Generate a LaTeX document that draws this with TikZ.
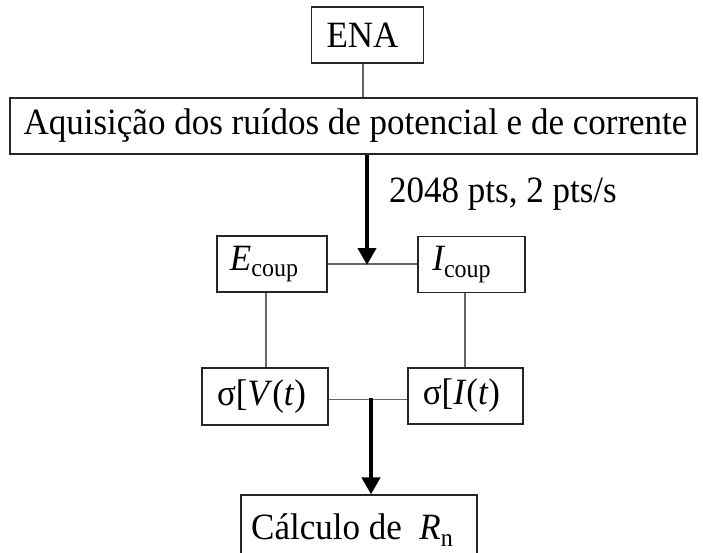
\documentclass[tikz,border=0pt]{standalone}
\usepackage{fontspec}
\usepackage{graphicx}
\setmainfont{Liberation Serif}
\usetikzlibrary{arrows.meta}
\newcommand{\sbs}[1]{\raisebox{-6.5pt}{\fontsize{24}{24}\selectfont #1}}
\newcommand{\tst}[1]{\scalebox{1}[1.06]{#1}}
\tikzset{
  box/.style={draw=black!85, line width=1.2pt, inner sep=0pt, font=\fontsize{35}{38}\selectfont},
  link/.style={draw=black!60, line width=1.3pt},
  flow/.style={draw=black, line width=4pt, -{Triangle[length=17pt,width=18pt]}},
}
\begin{document}
\begin{tikzpicture}[x=1pt,y=-1pt]
\useasboundingbox[fill=white] (0,0) rectangle (703,552);
\node[box, minimum width=112pt, minimum height=56pt] (ena) at (367.5,35) {\tst{ENA}\hspace*{10pt}};
\node[box, minimum width=687pt, minimum height=56pt] (acq) at (353.5,126) {\hspace*{4pt}\tst{Aquisição dos ruídos de potencial e de corrente}};
\node[box, minimum width=110pt, minimum height=56pt] (ec) at (272,264) {\tst{\itshape E\upshape\sbs{coup}}\hspace*{16pt}};
\node[box, minimum width=107pt, minimum height=56pt] (ic) at (471.5,264.5) {\tst{\itshape I\upshape\sbs{coup}}\hspace*{20pt}};
\node[box, minimum width=126pt, minimum height=57pt] (sv) at (265,396.5) {\tst{σ[\textit{V}(\textit{t})}\hspace*{7pt}};
\node[box, minimum width=115pt, minimum height=56pt] (si) at (465.5,396) {\tst{σ[\textit{I}(\textit{t})}\hspace*{8pt}};
\node[box, minimum width=236pt, minimum height=70pt] (calc) at (359,530) {\raisebox{-7pt}{\tst{Cálculo de \ \textit{R}\sbs{n}}}\hspace*{14pt}};
\node[anchor=base west, inner sep=0pt, font=\fontsize{35}{38}\selectfont] (lbl) at (389,202) {\tst{2048 pts, 2 pts/s}};
\coordinate (top) at ([xshift=-4.5pt]ena.south);
\draw[link] (top) -- (top |- acq.north);
\draw[link] (ec.east) -- (ec.east -| ic.west);
\coordinate (a1) at (367,153);
\coordinate (a1e) at (367,265);
\draw[flow] (a1 |- acq.south) -- (a1e);
\coordinate (v1) at (266,0);
\coordinate (v2) at (465,0);
\draw[link] (v1 |- ec.south) -- (v1 |- sv.north);
\draw[link] (v2 |- ic.south) -- (v2 |- si.north);
\draw[link] ([yshift=-3pt]sv.east) -- ([yshift=-3pt]sv.east -| si.west);
\coordinate (a2) at (371,398);
\draw[flow] (a2) -- (a2 |- calc.north);
\end{tikzpicture}
\end{document}
